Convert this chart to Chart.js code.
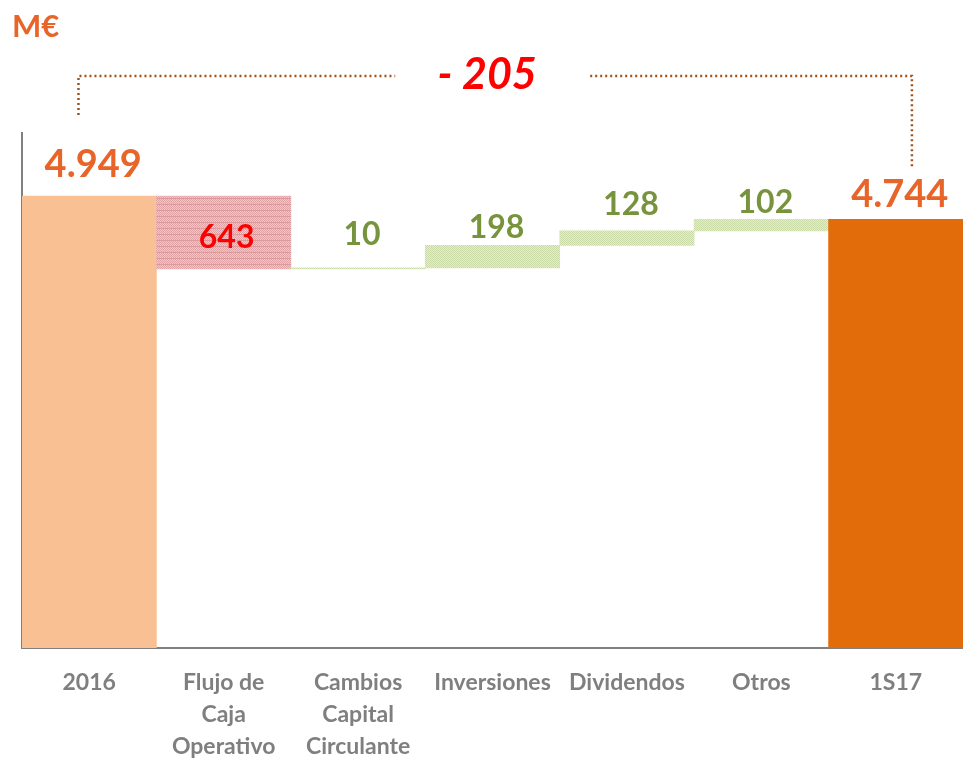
<!DOCTYPE html>
<html>
<head>
<meta charset="utf-8">
<script src="https://cdn.jsdelivr.net/npm/chart.js@4.4.1/dist/chart.umd.min.js"></script>
<style>
  html, body { margin: 0; padding: 0; background: #ffffff; }
  #wrap { position: relative; width: 963px; height: 760px; }
</style>
</head>
<body>
<div id="wrap"><canvas id="cascada"></canvas></div>
<script>
// Datos del gráfico (M€)
const categorias = [['2016'], ['Flujo de', 'Caja', 'Operativo'], ['Cambios', 'Capital', 'Circulante'], ['Inversiones'], ['Dividendos'], ['Otros'], ['1S17']];
const deudaInicial = 4949;
const deudaFinal = 4744;
const variaciones = [-643, 10, 198, 128, 102];
const variacionTotal = -205;

// Separación de cada etiqueta sobre su barra (px)
const separacion = [19, null, 23, 7, 16, 6, 12];

// Formato con punto de miles
function fmt(v) {
    return String(Math.abs(v)).replace(/\B(?=(\d{3})+(?!\d))/g, '.');
}

// Barras flotantes calculadas a partir de las variaciones
const rangos = [[0, deudaInicial]];
let acumulado = deudaInicial;
variaciones.forEach(v => {
    rangos.push([Math.min(acumulado, acumulado + v), Math.max(acumulado, acumulado + v)]);
    acumulado += v;
});
rangos.push([0, deudaFinal]);

const valoresEtiqueta = [deudaInicial, ...variaciones, deudaFinal];

// Tramas para las barras de variación
function trama(base, punto, linea) {
    const c = document.createElement('canvas');
    c.width = 6; c.height = 6;
    const g = c.getContext('2d');
    g.fillStyle = base;
    g.fillRect(0, 0, 6, 6);
    g.fillStyle = punto;
    for (let y = 0; y < 6; y++) {
        for (let x = 0; x < 6; x++) {
            if ((x + y) % 2 === 0) g.fillRect(x, y, 1, 1);
        }
    }
    if (linea) {
        g.fillStyle = linea;
        g.fillRect(0, 0, 6, 1);
    }
    return g.createPattern(c, 'repeat');
}

const ctx = document.getElementById('cascada').getContext('2d');
const tramaRoja = trama('#EDC8C9', '#DFA3A6', '#DB9A9D');
const tramaVerde = trama('#E3EDCF', '#CADBA8', null);

const coloresBarras = rangos.map((r, i) => {
    if (i === 0) return '#F9C193';
    if (i === rangos.length - 1) return '#E36C0A';
    return variaciones[i - 1] < 0 ? tramaRoja : tramaVerde;
});

const coloresEtiqueta = valoresEtiqueta.map((v, i) => {
    if (i === 0 || i === valoresEtiqueta.length - 1) return '#E8652A';
    return v < 0 ? '#FF0000' : '#77933C';
});

// Etiquetas de datos, corchete punteado y unidad
const etiquetasPlugin = {
    id: 'etiquetas',
    afterDatasetsDraw(chart) {
        const g = chart.ctx;
        const meta = chart.getDatasetMeta(0);
        const y = chart.scales.y;
        g.save();
        g.textAlign = 'center';
        meta.data.forEach((bar, i) => {
            const total = i === 0 || i === meta.data.length - 1;
            g.fillStyle = coloresEtiqueta[i];
            g.font = total ? 'bold 38px Lato' : 'bold 32px Lato';
            if (separacion[i] === null) {
                g.textBaseline = 'middle';
                g.fillText(fmt(valoresEtiqueta[i]), bar.x + 3, (bar.y + bar.base) / 2 + 5);
            } else {
                g.textBaseline = 'alphabetic';
                g.fillText(fmt(valoresEtiqueta[i]), bar.x + 4, bar.y - separacion[i]);
            }
        });

        // Corchete entre 2016 y 1S17
        const primera = meta.data[0];
        const ultima = meta.data[meta.data.length - 1];
        const xa = primera.x - primera.width * 0.08;
        const xb = ultima.x + ultima.width * 0.12;
        const arriba = chart.chartArea.top - 57;
        const ya = y.getPixelForValue(deudaInicial) - 81;
        const yb = y.getPixelForValue(deudaFinal) - 52;
        const medio = (xa + xb) / 2 - 5;
        g.strokeStyle = '#A0521C';
        g.lineWidth = 2.5;
        g.setLineDash([2, 3]);
        g.beginPath();
        g.moveTo(xa, ya);
        g.lineTo(xa, arriba);
        g.lineTo(medio - 95, arriba);
        g.moveTo(medio + 100, arriba);
        g.lineTo(xb, arriba);
        g.lineTo(xb, yb);
        g.stroke();
        g.setLineDash([]);

        g.fillStyle = '#FF0000';
        g.font = 'italic bold 43px Lato';
        g.textBaseline = 'middle';
        g.fillText('- ' + fmt(variacionTotal), medio - 3, arriba - 1);

        g.fillStyle = '#E8652A';
        g.font = 'bold 31px Lato';
        g.textAlign = 'left';
        g.fillText('M€', 12, 27);
        g.restore();
    }
};

new Chart(ctx, {
    type: 'bar',
    data: {
        labels: categorias,
        datasets: [{
            data: rangos,
            backgroundColor: coloresBarras,
            borderWidth: 0,
            barPercentage: 1,
            categoryPercentage: 1
        }]
    },
    options: {
        responsive: true,
        maintainAspectRatio: false,
        animation: false,
        layout: {
            padding: { top: 133, left: 0, right: 0, bottom: 0 }
        },
        plugins: {
            legend: { display: false },
            tooltip: { enabled: false }
        },
        scales: {
            x: {
                grid: { display: false, drawTicks: false },
                border: { display: true, color: '#808080', width: 2 },
                ticks: {
                    color: '#7F7F7F',
                    font: { family: 'Lato', size: 23, weight: 'bold', lineHeight: 1.39 },
                    padding: 19,
                    maxRotation: 0,
                    autoSkip: false
                },
                afterFit(scale) { scale.height = 112; }
            },
            y: {
                min: 967,
                max: 5504,
                grid: { display: false },
                border: { display: true, color: '#808080', width: 2 },
                ticks: { display: false },
                afterFit(scale) { scale.width = 22; }
            }
        }
    },
    plugins: [etiquetasPlugin]
});
</script>
</body>
</html>
